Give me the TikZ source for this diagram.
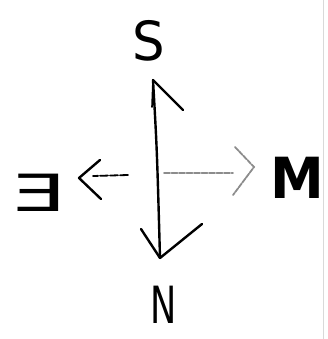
\documentclass[tikz,border=0pt]{standalone}
\usepackage{fontspec}
\setmainfont{DejaVu Sans}
\begin{document}
\begin{tikzpicture}[x=1pt,y=-1pt,
  ink/.style={draw=black,line width=2.4pt,line cap=round,line join=round},
  faint/.style={draw=black!45,line width=1.8pt,line cap=round,dash pattern=on 6pt off 1.5pt},
  lbl/.style={font=\fontsize{54}{54}\selectfont,inner sep=0pt,text=black}]
\useasboundingbox (0,0) rectangle (327,339);
% page edge
\draw[black!15,line width=1pt] (323,0) -- (323,339);
% labels
\node[lbl,xscale=0.95] (s) at (149,41) {S};
\node[lbl,xscale=0.65,yscale=0.95] (n) at (164,305) {N};
\node[lbl,xscale=1.6,yscale=0.95] (e) at (40,193) {Ǝ};
\node[lbl,xscale=1.0,yscale=1.05] (m) at (297,178) {\textbf{M}};
% coordinates
\coordinate (top) at (153,80);
\coordinate (bot) at (160,258);
\coordinate (ctr) at (164,173);
\coordinate (rend) at (233,173);
\coordinate (rtip) at (254,167);
\coordinate (lstart) at (128,175);
\coordinate (lend) at (93,176);
\coordinate (ltip) at (79,178);
% vertical double arrow
\draw[ink] (top) .. controls (157,150) .. (bot);
\draw[ink] (top) -- (183,110);
\draw[ink,line width=1.6pt] (top) -- (152,107);
\draw[ink] (bot) -- (141,229);
\draw[ink] (bot) -- (202,224);
% right arrow (faint)
\draw[faint] (ctr) -- (rend);
\draw[faint,dash pattern=on 5pt off 1pt] (235,147) -- (rtip) -- (233,195);
% left arrow
\draw[ink,line width=1.8pt,dash pattern=on 8pt off 2pt] (lstart) -- (lend);
\draw[ink] (100,160) -- (ltip) -- (101,199);
\end{tikzpicture}
\end{document}
